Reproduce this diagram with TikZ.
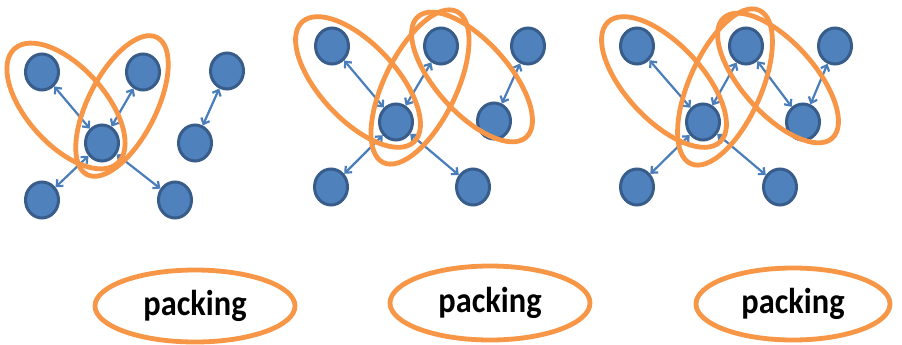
\documentclass[tikz,border=0pt]{standalone}
\usepackage{fontspec}
\setmainfont{Carlito}
\usetikzlibrary{shapes.geometric,arrows.meta}
\definecolor{nodefill}{HTML}{4F81BD}
\definecolor{nodeline}{HTML}{385D8A}
\definecolor{ringcol}{HTML}{F79646}
\definecolor{linkcol}{HTML}{4A7EBB}
\tikzset{
  vert/.style={ellipse, fill=nodefill, draw=nodeline, line width=3pt,
    minimum width=33pt, minimum height=36pt, inner sep=0pt},
  ring/.style={ellipse, draw=ringcol, line width=4.8pt, inner sep=0pt},
  link/.style={draw=linkcol, line width=2.2pt,
    {Straight Barb[length=5pt,width=9pt]}-{Straight Barb[length=5pt,width=9pt]}},
  pack/.style={ring, minimum width=200pt, minimum height=72pt,
    font=\fontsize{36}{36}\selectfont\bfseries},
}
\newcommand{\packword}{\scalebox{0.9}[1]{packing}}
\begin{document}
\begin{tikzpicture}[x=1pt,y=-1pt]
\useasboundingbox (0,0) rectangle (902,345);

% first group
\node[vert] (a1) at (42,72) {};
\node[vert] (b1) at (143,72) {};
\node[vert] (c1) at (102,143) {};
\node[vert] (d1) at (227,71) {};
\node[vert] (e1) at (195,143) {};
\node[vert] (f1) at (42,200) {};
\node[vert] (g1) at (175,200) {};
\draw[link] (a1) -- (c1);
\draw[link] (b1) -- (c1);
\draw[link] (f1) -- (c1);
\draw[link] (g1) -- (c1);
\draw[link] (d1) -- (e1);
\node[ring, minimum width=154pt, minimum height=78pt, rotate=-48] (r1l) at (66,106) {};
\node[ring, minimum width=154pt, minimum height=68pt, rotate=63] (r1r) at (122,106) {};

% second group
\node[vert] (a2) at (332,46) {};
\node[vert] (b2) at (441,46) {};
\node[vert] (c2) at (396,122) {};
\node[vert] (d2) at (528,46) {};
\node[vert] (e2) at (494,121) {};
\node[vert] (f2) at (331,187) {};
\node[vert] (g2) at (473,187) {};
\draw[link] (a2) -- (c2);
\draw[link] (b2) -- (c2);
\draw[link] (f2) -- (c2);
\draw[link] (g2) -- (c2);
\draw[link] (d2) -- (e2);
\node[ring, minimum width=164pt, minimum height=76pt, rotate=-47] (r2l) at (358,82) {};
\node[ring, minimum width=168pt, minimum height=72pt, rotate=64] (r2m) at (420,87) {};
\node[ring, minimum width=162pt, minimum height=72pt, rotate=-48] (r2r) at (472,77) {};

% third group
\node[vert] (a3) at (637,46) {};
\node[vert] (b3) at (746,46) {};
\node[vert] (c3) at (703,122) {};
\node[vert] (d3) at (835,46) {};
\node[vert] (e3) at (803,122) {};
\node[vert] (f3) at (637,187) {};
\node[vert] (g3) at (780,187) {};
\draw[link] (a3) -- (c3);
\draw[link] (b3) -- (c3);
\draw[link] (f3) -- (c3);
\draw[link] (g3) -- (c3);
\draw[link] (d3) -- (e3);
\draw[link] (b3) -- (e3);
\node[ring, minimum width=164pt, minimum height=76pt, rotate=-47] (r3l) at (664,82) {};
\node[ring, minimum width=168pt, minimum height=72pt, rotate=66] (r3m) at (725,87) {};
\node[ring, minimum width=162pt, minimum height=72pt, rotate=-48] (r3r) at (778,78) {};

% labels
\node[pack] (p1) at (195,306) {\packword};
\node[pack, minimum height=74pt] (p2) at (490,303) {\packword};
\node[pack, minimum width=194pt] (p3) at (793,304) {\packword};
\end{tikzpicture}
\end{document}
